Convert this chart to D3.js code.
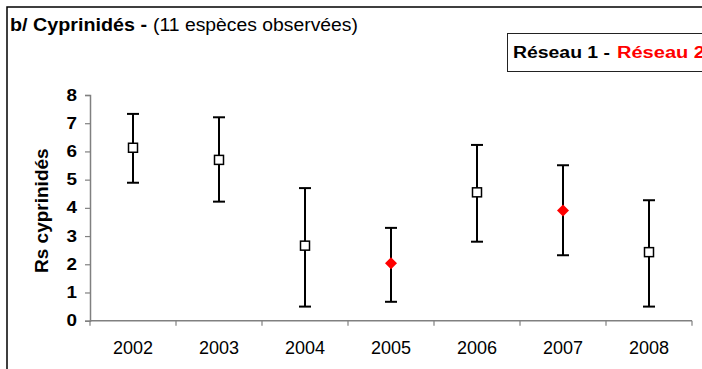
<!DOCTYPE html>
<html>
<head>
<meta charset="utf-8">
<script src="https://cdn.jsdelivr.net/npm/d3@7"></script>
<style>
    body { margin: 0; background: #fff; }
    text { font-family: "Liberation Sans", Arial, sans-serif; }
</style>
</head>
<body>
<div id="canvas"></div>
<script>
"use strict"

/* data */
let years = ["2002", "2003", "2004", "2005", "2006", "2007", "2008"];
let meanRs = [6.13, 5.70, 2.66, 2.04, 4.55, 3.91, 2.43];
let upperRs = [7.33, 7.21, 4.70, 3.29, 6.23, 5.51, 4.27];
let lowerRs = [4.89, 4.22, 0.50, 0.67, 2.80, 2.32, 0.50];
let network = [1, 1, 1, 2, 1, 2, 1];
let yTicks = [0, 1, 2, 3, 4, 5, 6, 7, 8];

let points = years.map((y, i) => ({
    year: y, mean: meanRs[i], hi: upperRs[i], lo: lowerRs[i], net: network[i]
}));

/* set up the drawing canvas */
let drawing = d3.select("#canvas")
    .append("svg")
    .attr("width", 702)
    .attr("height", 369);

/* outer frame, runs off the right and bottom edge */
drawing.append("rect")
    .attr("x", 7)
    .attr("y", 7)
    .attr("width", 720)
    .attr("height", 400)
    .attr("fill", "none")
    .attr("stroke", "black")
    .attr("stroke-width", 1.5);

/* title (the picture is a bit stretched sideways, hence textLength) */
drawing.append("text")
    .attr("x", 10)
    .attr("y", 31)
    .attr("font-size", 18)
    .attr("font-weight", "bold")
    .attr("textLength", 137)
    .attr("lengthAdjust", "spacingAndGlyphs")
    .text("b/ Cyprinidés -");
drawing.append("text")
    .attr("x", 153)
    .attr("y", 31)
    .attr("font-size", 18)
    .attr("textLength", 205)
    .attr("lengthAdjust", "spacingAndGlyphs")
    .text("(11 espèces observées)");

/* legend box */
drawing.append("rect")
    .attr("x", 507.5)
    .attr("y", 33.5)
    .attr("width", 220)
    .attr("height", 38)
    .attr("fill", "white")
    .attr("stroke", "#222")
    .attr("stroke-width", 1);

drawing.append("text")
    .attr("x", 513)
    .attr("y", 58)
    .attr("font-size", 16)
    .attr("font-weight", "bold")
    .attr("fill", "black")
    .attr("textLength", 97)
    .attr("lengthAdjust", "spacingAndGlyphs")
    .text("Réseau 1 -");
drawing.append("text")
    .attr("x", 617)
    .attr("y", 58)
    .attr("font-size", 16)
    .attr("font-weight", "bold")
    .attr("fill", "red")
    .attr("textLength", 88)
    .attr("lengthAdjust", "spacingAndGlyphs")
    .text("Réseau 2");

/* scales */
let x = d3.scaleBand()
    .domain(years)
    .range([90, 692])
    .padding(0);

let y = d3.scaleLinear()
    .domain([0, 8])
    .range([320.7, 95]);

/* y axis */
let yAxis = drawing.append("g")
    .attr("transform", "translate(90,0)")
    .call(d3.axisLeft(y).tickValues(yTicks).tickSize(5).tickPadding(8));
yAxis.select(".domain").attr("stroke", "#808080").attr("stroke-width", 1.5);
yAxis.selectAll(".tick line").attr("stroke", "#808080").attr("stroke-width", 1.2);
yAxis.selectAll(".tick text")
    .attr("font-family", "Liberation Sans, Arial, sans-serif")
    .attr("font-size", 16)
    .attr("font-weight", "bold")
    .attr("fill", "black")
    .attr("textLength", 10.5)
    .attr("lengthAdjust", "spacingAndGlyphs");

/* x axis: ticks sit between the categories */
let xAxis = drawing.append("g")
    .attr("transform", "translate(0,320.7)");
xAxis.append("line")
    .attr("x1", x.range()[0])
    .attr("x2", x.range()[1])
    .attr("stroke", "#808080")
    .attr("stroke-width", 1.5);
xAxis.selectAll(".xtick")
    .data(years.concat(["end"]))
    .join("line")
    .attr("class", "xtick")
    .attr("x1", d => d === "end" ? x.range()[1] : x(d))
    .attr("x2", d => d === "end" ? x.range()[1] : x(d))
    .attr("y1", 0)
    .attr("y2", 5)
    .attr("stroke", "#808080")
    .attr("stroke-width", 1.2);
xAxis.selectAll(".xlabel")
    .data(years)
    .join("text")
    .attr("class", "xlabel")
    .attr("x", d => x(d) + x.bandwidth() / 2)
    .attr("y", 33)
    .attr("text-anchor", "middle")
    .attr("font-size", 18)
    .attr("fill", "black")
    .text(d => d);

/* y axis title */
drawing.append("text")
    .attr("transform", "translate(48," + y(3.9) + ") rotate(-90)")
    .attr("text-anchor", "middle")
    .attr("font-size", 19)
    .attr("font-weight", "bold")
    .text("Rs cyprinidés");

/* error bars */
let cx = d => x(d.year) + x.bandwidth() / 2;
let bars = drawing.append("g")
    .attr("stroke", "black")
    .attr("stroke-width", 2);
bars.selectAll(".whisker")
    .data(points)
    .join("line")
    .attr("x1", cx).attr("x2", cx)
    .attr("y1", d => y(d.hi)).attr("y2", d => y(d.lo));
bars.selectAll(".capHi")
    .data(points)
    .join("line")
    .attr("class", "capHi")
    .attr("x1", d => cx(d) - 6).attr("x2", d => cx(d) + 6)
    .attr("y1", d => y(d.hi)).attr("y2", d => y(d.hi));
bars.selectAll(".capLo")
    .data(points)
    .join("line")
    .attr("class", "capLo")
    .attr("x1", d => cx(d) - 6).attr("x2", d => cx(d) + 6)
    .attr("y1", d => y(d.lo)).attr("y2", d => y(d.lo));

/* Réseau 1: open squares */
drawing.selectAll(".sq")
    .data(points.filter(d => d.net === 1))
    .join("rect")
    .attr("class", "sq")
    .attr("x", d => cx(d) - 4.5)
    .attr("y", d => y(d.mean) - 4.5)
    .attr("width", 9)
    .attr("height", 9)
    .attr("fill", "white")
    .attr("stroke", "black")
    .attr("stroke-width", 1.5);

/* Réseau 2: red diamonds */
drawing.selectAll(".dm")
    .data(points.filter(d => d.net === 2))
    .join("path")
    .attr("class", "dm")
    .attr("transform", d => "translate(" + cx(d) + "," + y(d.mean) + ")")
    .attr("d", "M0,-6L6,0L0,6L-6,0Z")
    .attr("fill", "red");
</script>
</body>
</html>
